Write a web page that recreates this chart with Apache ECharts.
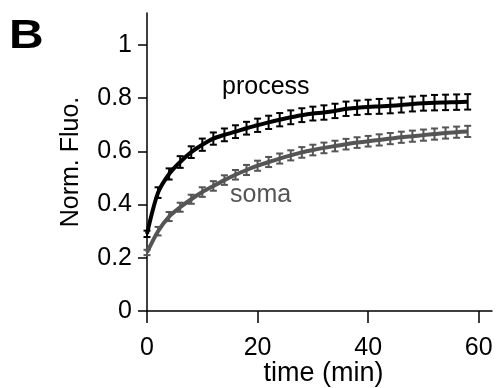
<!DOCTYPE html>
<html>
<head>
<meta charset="utf-8">
<script src="https://cdn.jsdelivr.net/npm/echarts@6/dist/echarts.min.js"></script>
<style>
  html, body { margin: 0; padding: 0; background: #fff; }
  #chart { width: 500px; height: 388px; }
</style>
</head>
<body>
<div id="chart"></div>
<script>
// time points (min)
const times = [0, 2, 4, 6, 8, 10, 12, 14, 16, 18, 20, 22, 24, 26, 28,
  30, 32, 34, 36, 38, 40, 42, 44, 46, 48, 50, 52, 54, 56, 58];

const processMean = [0.29, 0.445, 0.515, 0.56, 0.597, 0.625, 0.648, 0.662, 0.674, 0.687,
  0.698, 0.709, 0.719, 0.728, 0.736, 0.742, 0.746, 0.752, 0.76, 0.764,
  0.767, 0.769, 0.771, 0.774, 0.778, 0.781, 0.783, 0.784, 0.785, 0.786];
const processErr = [0.012, 0.02, 0.021, 0.022, 0.022, 0.023, 0.023, 0.024, 0.024, 0.024,
  0.025, 0.025, 0.025, 0.026, 0.026, 0.026, 0.027, 0.027, 0.027, 0.027,
  0.027, 0.028, 0.028, 0.028, 0.028, 0.028, 0.029, 0.029, 0.029, 0.029];

const somaMean = [0.22, 0.3, 0.355, 0.39, 0.42, 0.447, 0.47, 0.492, 0.512, 0.53,
  0.546, 0.56, 0.573, 0.585, 0.596, 0.605, 0.613, 0.62, 0.627, 0.633,
  0.638, 0.643, 0.648, 0.653, 0.657, 0.661, 0.665, 0.669, 0.672, 0.675];
const somaErr = [0.01, 0.016, 0.017, 0.017, 0.017, 0.018, 0.018, 0.018, 0.018, 0.019,
  0.019, 0.019, 0.019, 0.019, 0.02, 0.02, 0.02, 0.02, 0.02, 0.02,
  0.02, 0.021, 0.021, 0.021, 0.021, 0.021, 0.021, 0.021, 0.021, 0.021];

const xTicks = [0, 20, 40, 60];
const yTicks = [0, 0.2, 0.4, 0.6, 0.8, 1];

const FONT = 'Liberation Sans, Arial, sans-serif';
const PROCESS_COLOR = '#000000';
const SOMA_COLOR = '#555555';

const chart = echarts.init(document.getElementById('chart'));

const toLine = (mean) => times.map((t, i) => [t, mean[i]]);
const toErr = (mean, err) => times.map((t, i) => [t, mean[i] - err[i], mean[i] + err[i]]);

const errBars = (color) => (params, api) => {
  const x = api.value(0);
  const lo = api.coord([x, api.value(1)]);
  const hi = api.coord([x, api.value(2)]);
  const w = 3.5;
  const style = { stroke: color, lineWidth: 2 };
  return {
    type: 'group',
    children: [
      { type: 'line', shape: { x1: lo[0], y1: lo[1], x2: hi[0], y2: hi[1] }, style },
      { type: 'line', shape: { x1: lo[0] - w, y1: lo[1], x2: lo[0] + w, y2: lo[1] }, style },
      { type: 'line', shape: { x1: hi[0] - w, y1: hi[1], x2: hi[0] + w, y2: hi[1] }, style }
    ]
  };
};

const option = {
  animation: false,
  backgroundColor: '#fff',
  textStyle: { fontFamily: FONT },
  grid: { left: 147, right: 8, top: 13, bottom: 77, outerBoundsMode: 'none', containLabel: false },
  xAxis: {
    type: 'value',
    min: 0,
    max: 62.4,
    name: 'time (min)',
    nameLocation: 'middle',
    nameGap: 49,
    nameMoveOverlap: false,
    nameTextStyle: { color: '#000', fontSize: 27, fontFamily: FONT, padding: [0, 0, 0, 8] },
    splitLine: { show: false },
    axisLine: { lineStyle: { color: '#000', width: 1.5 } },
    axisTick: { customValues: xTicks, length: 12, lineStyle: { color: '#000', width: 1.5 } },
    axisLabel: { customValues: xTicks, color: '#000', fontSize: 25, fontFamily: FONT, margin: 25 }
  },
  yAxis: {
    type: 'value',
    min: 0,
    max: 1.12,
    name: 'Norm. Fluo.',
    nameLocation: 'middle',
    nameGap: 63,
    nameMoveOverlap: false,
    nameRotate: 90,
    nameTextStyle: { color: '#000', fontSize: 25, fontFamily: FONT },
    splitLine: { show: false },
    axisLine: { show: true, lineStyle: { color: '#000', width: 1.5 } },
    axisTick: { show: true, customValues: yTicks, length: 9, lineStyle: { color: '#000', width: 1.5 } },
    axisLabel: { customValues: yTicks, color: '#000', fontSize: 25, fontFamily: FONT, margin: 15 }
  },
  graphic: [
    { type: 'text', x: 9, y: 17, scaleX: 1.2, style: { text: 'B', font: 'bold 40px ' + FONT, fill: '#000' } },
    { type: 'text', left: 222, top: 75, style: { text: 'process', font: '25px ' + FONT, fill: '#000' } },
    { type: 'text', left: 230, top: 183, style: { text: 'soma', font: '25px ' + FONT, fill: SOMA_COLOR } }
  ],
  series: [
    {
      name: 'soma',
      type: 'line',
      data: toLine(somaMean),
      showSymbol: false,
      smooth: 0.3,
      lineStyle: { color: SOMA_COLOR, width: 4 },
      z: 2
    },
    {
      name: 'soma err',
      type: 'custom',
      data: toErr(somaMean, somaErr),
      encode: { x: 0, y: [1, 2] },
      renderItem: errBars(SOMA_COLOR),
      z: 3
    },
    {
      name: 'process',
      type: 'line',
      data: toLine(processMean),
      showSymbol: false,
      smooth: 0.3,
      lineStyle: { color: PROCESS_COLOR, width: 4 },
      z: 4
    },
    {
      name: 'process err',
      type: 'custom',
      data: toErr(processMean, processErr),
      encode: { x: 0, y: [1, 2] },
      renderItem: errBars(PROCESS_COLOR),
      z: 5
    }
  ]
};

chart.setOption(option);
</script>
</body>
</html>
